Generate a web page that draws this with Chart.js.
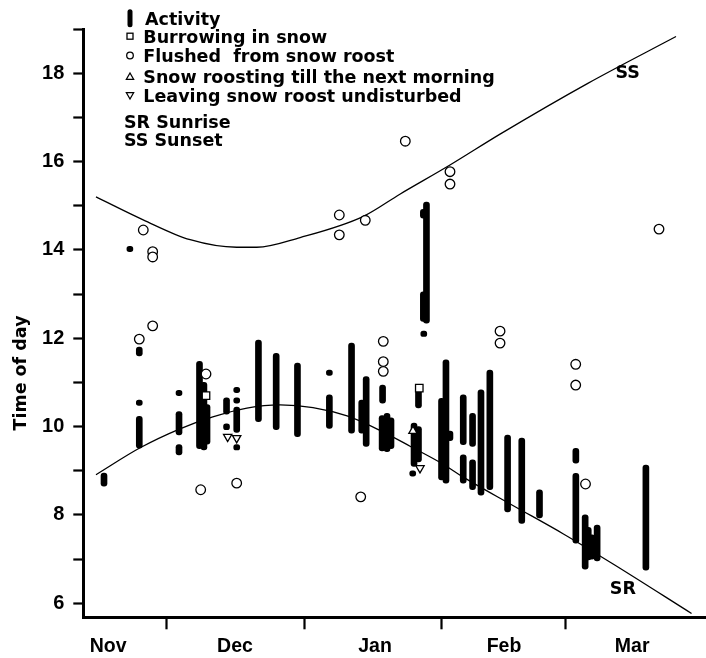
<!DOCTYPE html>
<html><head><meta charset="utf-8">
<script src="https://cdn.jsdelivr.net/npm/chart.js@4"></script>
<style>html,body{margin:0;padding:0;background:#fff;}canvas{display:block;}</style>
</head><body>
<canvas id="c" width="706" height="658" style="width:706px;height:658px"></canvas>
<script>
// x values: days since 1 November; y values: time of day (hours)
const monthLabels   = ['Nov', 'Dec', 'Jan', 'Feb', 'Mar'];
const monthLabelDay = [16.8, 45.4, 77.0, 106.1, 135.0];
const monthStartDay = [30, 61, 92, 120];
const yTickValues   = [6, 7, 8, 9, 10, 11, 12, 13, 14, 15, 16, 17, 18, 19];

// Activity (vertical bars: from low to high)
const actDay  = [15.86, 21.7, 23.82, 23.82, 23.82, 32.78, 32.78, 32.78, 37.4, 38.4, 39.1, 43.5, 43.5, 45.8, 45.8, 45.8, 45.8, 50.7, 54.7, 59.5, 66.7, 66.7, 71.7, 74.0, 75.0, 78.7, 78.6, 79.7, 80.6, 85.5, 85.8, 86.8, 86.8, 88.0, 87.9, 87.9, 88.6, 92.0, 93.0, 93.9, 96.9, 96.9, 99.0, 99.0, 100.9, 102.9, 106.9, 110.1, 114.1, 122.3, 122.3, 124.4, 125.1, 125.9, 127.1, 138.1];
const actLow  = [8.65, 13.96, 11.6, 10.48, 9.51, 10.7, 9.81, 9.36, 9.5, 9.47, 9.6, 10.28, 9.93, 10.77, 10.53, 9.87, 9.47, 10.11, 9.93, 9.77, 11.16, 9.96, 9.85, 9.85, 9.55, 10.53, 9.45, 9.43, 9.5, 8.88, 9.1, 9.2, 10.42, 12.04, 12.38, 14.72, 12.34, 8.79, 8.72, 9.68, 9.59, 8.72, 9.55, 8.57, 8.45, 8.57, 8.07, 7.81, 7.93, 9.17, 7.36, 6.77, 6.98, 7.0, 6.96, 6.75];
const actHigh = [8.95, 14.08, 11.8, 10.6, 10.23, 10.82, 10.34, 9.59, 11.48, 11.0, 10.5, 10.65, 10.06, 10.89, 10.65, 10.44, 9.59, 11.96, 11.66, 11.44, 11.28, 10.72, 11.89, 10.6, 11.13, 10.94, 10.25, 10.3, 10.2, 9.0, 10.08, 10.0, 10.83, 12.16, 13.05, 14.92, 15.08, 10.64, 11.51, 9.9, 10.72, 9.36, 10.3, 9.25, 10.83, 11.28, 9.81, 9.74, 8.57, 9.51, 8.94, 8.0, 7.72, 7.55, 7.77, 9.13];

// Burrowing in snow
const burrowDay = [38.87, 86.98];
const burrowVal = [10.70, 10.87];
// Flushed from snow roost
const flushDay = [24.72, 26.84, 26.84, 26.84, 23.82, 38.87, 37.67, 45.79, 68.94, 68.94, 74.8, 83.83, 93.91, 93.91, 73.77, 78.86, 78.86, 78.86, 105.2, 105.2, 122.27, 122.27, 124.48, 141.06];
const flushVal = [14.45, 13.96, 13.84, 12.28, 11.98, 11.19, 8.57, 8.72, 14.79, 14.34, 14.67, 16.46, 15.77, 15.49, 8.41, 11.93, 11.47, 11.25, 12.16, 11.89, 11.41, 10.94, 8.70, 14.47];
// Snow roosting till the next morning
const roostDay = [85.56];
const roostVal = [9.90];
// Leaving snow roost undisturbed
const leaveDay = [43.76, 45.79, 87.14];
const leaveVal = [9.77, 9.74, 9.06];

// Sunrise (SR) and sunset (SS) curves
const srDay = [14.05, 24.0, 33.0, 40.4, 48.1, 55.6, 63.0, 70.7, 78.0, 85.0, 92.0, 97.0, 108.0, 119.5, 130.7, 148.4];
const srVal = [8.91, 9.52, 9.95, 10.22, 10.42, 10.49, 10.43, 10.24, 9.92, 9.55, 9.17, 8.85, 8.22, 7.57, 6.89, 5.77];
const ssDay = [14.05, 24.7, 35.3, 45.8, 50.3, 60.1, 74.4, 82.6, 93.9, 105.2, 125.0, 144.9];
const ssVal = [15.2, 14.68, 14.23, 14.06, 14.06, 14.28, 14.76, 15.26, 15.92, 16.62, 17.77, 18.83];
const curveLabels   = ['SS', 'SR'];
const curveLabelDay = [134.0, 132.9];
const curveLabelVal = [18.03, 6.35];

const legendLabels = ['Activity', 'Burrowing in snow', 'Flushed  from snow roost', 'Snow roosting till the next morning', 'Leaving snow roost undisturbed', 'SR Sunrise', 'SS Sunset'];
const yTitle = 'Time of day';

const pts = (xs, ys) => xs.map((x, i) => ({x: x, y: ys[i]}));

const overlay = {
  id: 'overlay',
  afterDraw(chart) {
    const ctx = chart.ctx;
    const sx = chart.scales.x, sy = chart.scales.y;
    ctx.save();
    ctx.fillStyle = '#000';
    ctx.strokeStyle = '#000';
    ctx.font = 'bold 17.5px "DejaVu Sans", sans-serif';
    ctx.textBaseline = 'alphabetic';
    ctx.textAlign = 'left';
    const rows = [18.3, 36.2, 55.5, 76.5, 95.5, 121.5, 140.0];
    const symX = 130;
    legendLabels.forEach((lab, i) => {
      const cy = rows[i];
      const tx = i === 0 ? 145 : (i < 5 ? 143.3 : 124);
      ctx.fillText(lab, tx, cy + 6.4);
      ctx.lineWidth = 1.3;
      ctx.beginPath();
      if (i === 0) {
        ctx.lineWidth = 5; ctx.lineCap = 'round';
        ctx.moveTo(symX, cy - 6.5); ctx.lineTo(symX, cy + 6.5); ctx.stroke();
        ctx.lineCap = 'butt';
      } else if (i === 1) {
        ctx.strokeRect(symX - 3, cy - 3, 6, 6);
      } else if (i === 2) {
        ctx.arc(symX, cy, 3.3, 0, Math.PI * 2); ctx.stroke();
      } else if (i === 3) {
        ctx.moveTo(symX, cy - 3.5); ctx.lineTo(symX + 3.6, cy + 2.8); ctx.lineTo(symX - 3.6, cy + 2.8); ctx.closePath(); ctx.stroke();
      } else if (i === 4) {
        ctx.moveTo(symX, cy + 3.5); ctx.lineTo(symX + 3.6, cy - 2.8); ctx.lineTo(symX - 3.6, cy - 2.8); ctx.closePath(); ctx.stroke();
      }
    });
    // curve labels
    ctx.textAlign = 'center';
    curveLabels.forEach((lab, i) => {
      ctx.fillText(lab, sx.getPixelForValue(curveLabelDay[i]), sy.getPixelForValue(curveLabelVal[i]) + 6.4);
    });
    // y title
    ctx.translate(20, 373);
    ctx.rotate(-Math.PI / 2);
    ctx.fillText(yTitle, 0, 6.4);
    ctx.restore();
  }
};

new Chart(document.getElementById('c'), {
  type: 'scatter',
  data: {
    datasets: [
      {type: 'scatter', data: pts(flushDay, flushVal), pointStyle: 'circle', pointRadius: 4.8, borderWidth: 1.3, borderColor: '#000', backgroundColor: '#fff', order: 0},
      {type: 'scatter', data: pts(burrowDay, burrowVal), pointStyle: 'rect', pointRadius: 5.3, borderWidth: 1.3, borderColor: '#000', backgroundColor: '#fff', order: 0},
      {type: 'scatter', data: pts(roostDay, roostVal), pointStyle: 'triangle', pointRadius: 4.8, borderWidth: 1.3, borderColor: '#000', backgroundColor: '#fff', order: 0},
      {type: 'scatter', data: pts(leaveDay, leaveVal), pointStyle: 'triangle', rotation: 180, pointRadius: 4.8, borderWidth: 1.3, borderColor: '#000', backgroundColor: '#fff', order: 0},
      {type: 'line', data: pts(ssDay, ssVal), borderColor: '#000', borderWidth: 1.3, pointRadius: 0, cubicInterpolationMode: 'monotone', fill: false, order: 1},
      {type: 'line', data: pts(srDay, srVal), borderColor: '#000', borderWidth: 1.3, pointRadius: 0, cubicInterpolationMode: 'monotone', fill: false, order: 1},
      {type: 'bar', data: actDay.map((d, i) => ({x: d, y: [actLow[i], actHigh[i]]})), backgroundColor: '#000', borderWidth: 0, borderRadius: 3, borderSkipped: false, barThickness: 6, order: 2}
    ]
  },
  options: {
    responsive: false,
    animation: false,
    events: [],
    layout: {autoPadding: false, padding: {top: 29, right: 0, left: 0, bottom: 0}},
    plugins: {legend: {display: false}, tooltip: {enabled: false}},
    scales: {
      x: {
        type: 'linear', min: 11.19, max: 151.66, offset: false,
        afterBuildTicks: (s) => {
          const t = monthLabelDay.concat(monthStartDay).sort((a, b) => a - b);
          s.ticks = t.map(v => ({value: v}));
        },
        afterFit: (s) => { s.height = 40.7; },
        grid: {offset: false, drawOnChartArea: false, drawTicks: true, tickLength: 12, tickWidth: 2.2,
          tickColor: (c) => (c.tick && monthStartDay.includes(c.tick.value)) ? '#000' : 'rgba(0,0,0,0)'},
        border: {display: true, color: '#000', width: 3},
        ticks: {
          autoSkip: false, maxRotation: 0, padding: 6, color: '#000',
          font: {family: '"Liberation Sans", Arial, sans-serif', size: 19.5, weight: 'bold'},
          callback: (v) => { const i = monthLabelDay.indexOf(v); return i >= 0 ? monthLabels[i] : ''; }
        }
      },
      y: {
        type: 'linear', min: 5.683, max: 19,
        afterBuildTicks: (s) => { s.ticks = yTickValues.map(v => ({value: v})); },
        afterFit: (s) => { s.width = 83.3; },
        grid: {drawOnChartArea: false, drawTicks: true, tickLength: 10, tickWidth: 2.2, tickColor: '#000'},
        border: {display: true, color: '#000', width: 3},
        ticks: {
          padding: 9, color: '#000', autoSkip: false,
          font: {family: '"Liberation Sans", Arial, sans-serif', size: 20, weight: 'bold'},
          callback: (v) => (v % 2 === 0 ? String(v) : '')
        }
      }
    }
  },
  plugins: [overlay]
});
</script>
</body></html>
